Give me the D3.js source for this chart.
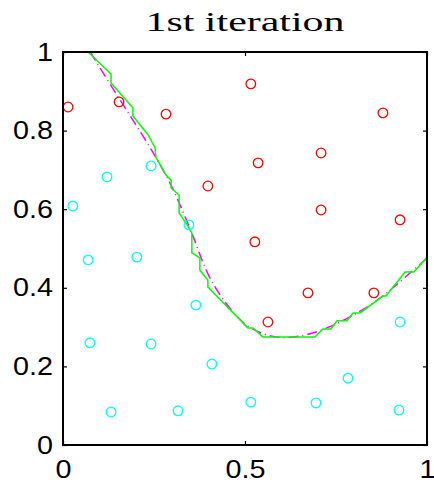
<!DOCTYPE html>
<html>
<head>
<meta charset="utf-8">
<script src="https://cdn.jsdelivr.net/npm/d3@7"></script>
<style>
  body { margin: 0; background: #fff; }
</style>
</head>
<body>
<div id="chart-area"></div>
<script>
// class +1 samples (red)
var redX = [0.014, 0.154, 0.283, 0.516, 0.879, 0.398, 0.536, 0.709, 0.709, 0.926, 0.527, 0.673, 0.854, 0.563];
var redY = [0.860, 0.873, 0.842, 0.919, 0.845, 0.659, 0.718, 0.743, 0.598, 0.573, 0.517, 0.387, 0.387, 0.313];

// class -1 samples (cyan)
var cyanX = [0.027, 0.121, 0.242, 0.346, 0.069, 0.203, 0.365, 0.074, 0.242, 0.409, 0.783, 0.926, 0.132, 0.316, 0.516, 0.695, 0.923];
var cyanY = [0.608, 0.682, 0.710, 0.560, 0.471, 0.478, 0.356, 0.260, 0.257, 0.206, 0.170, 0.313, 0.084, 0.087, 0.109, 0.107, 0.089];

// learned boundary (green, stepped)
var boundX = [0.069, 0.132, 0.132, 0.192, 0.192, 0.234, 0.253, 0.255, 0.283, 0.297, 0.297, 0.319, 0.319, 0.338, 0.354, 0.354, 0.376, 0.376, 0.398, 0.398, 0.508, 0.522, 0.549, 0.692, 0.714, 0.736, 0.753, 0.780, 0.797, 0.816, 0.879, 0.887, 0.940, 0.964, 1.000];
var boundY = [1.000, 0.944, 0.921, 0.858, 0.837, 0.789, 0.756, 0.733, 0.687, 0.674, 0.654, 0.636, 0.590, 0.565, 0.539, 0.489, 0.476, 0.445, 0.420, 0.402, 0.298, 0.298, 0.275, 0.275, 0.295, 0.295, 0.316, 0.316, 0.336, 0.336, 0.379, 0.379, 0.440, 0.440, 0.478];

// true boundary (magenta, dashed)
var trueX = [0.075, 0.10, 0.15, 0.20, 0.25, 0.30, 0.35, 0.40, 0.45, 0.50, 0.55, 0.60, 0.65, 0.70, 0.75, 0.80, 0.85, 0.90, 0.95, 1.00];
var trueY = [1.000, 0.962, 0.888, 0.815, 0.740, 0.655, 0.548, 0.432, 0.358, 0.308, 0.283, 0.274, 0.277, 0.289, 0.308, 0.332, 0.360, 0.395, 0.435, 0.475];

var xTicks = [0, 0.5, 1];
var yTicks = [0, 0.2, 0.4, 0.6, 0.8, 1];

var margin = {left: 63, right: 7, top: 52, bottom: 38};
var width = 364;
var height = 393;

var svg = d3.select("#chart-area")
            .append("svg")
            .attr("width", width + margin.left + margin.right)
            .attr("height", height + margin.top + margin.bottom);

var g = svg.append("g")
           .attr("transform", "translate(" + margin.left + "," + margin.top + ")");

var x = d3.scaleLinear().domain([0, 1]).range([0, width]);
var y = d3.scaleLinear().domain([0, 1]).range([height, 0]);

svg.append("text")
   .attr("x", margin.left + width / 2)
   .attr("y", 31)
   .attr("text-anchor", "middle")
   .attr("font-family", "Liberation Serif")
   .attr("font-size", "27px")
   .attr("textLength", 199)
   .attr("lengthAdjust", "spacingAndGlyphs")
   .text("1st iteration");

var redPts = redX.map((d, i) => { return {x: d, y: redY[i]}; });
var cyanPts = cyanX.map((d, i) => { return {x: d, y: cyanY[i]}; });
var boundPts = boundX.map((d, i) => [d, boundY[i]]);
var truePts = trueX.map((d, i) => [d, trueY[i]]);

var line = d3.line()
             .x((d) => { return x(d[0]); })
             .y((d) => { return y(d[1]); });

g.append("path")
 .datum(truePts)
 .attr("fill", "none")
 .attr("stroke", "#ff00ff")
 .attr("stroke-width", 1.5)
 .attr("stroke-dasharray", "10,4,1,4")
 .attr("d", line.curve(d3.curveCatmullRom));

g.append("path")
 .datum(boundPts)
 .attr("fill", "none")
 .attr("stroke", "#00ff00")
 .attr("stroke-width", 1.5)
 .attr("d", line.curve(d3.curveLinear));

g.selectAll("circle.red")
 .data(redPts)
 .enter().append("circle")
 .attr("class", "red")
 .attr("cx", (d) => { return x(d.x); })
 .attr("cy", (d) => { return y(d.y); })
 .attr("r", 4.8)
 .attr("fill", "none")
 .attr("stroke", "#ff0000")
 .attr("stroke-width", 1.3);

g.selectAll("circle.cyan")
 .data(cyanPts)
 .enter().append("circle")
 .attr("class", "cyan")
 .attr("cx", (d) => { return x(d.x); })
 .attr("cy", (d) => { return y(d.y); })
 .attr("r", 4.8)
 .attr("fill", "none")
 .attr("stroke", "#00ffff")
 .attr("stroke-width", 1.3);

var fmt = (d) => { return String(d); };

var bottomAxis = d3.axisBottom(x).tickValues(xTicks).tickFormat(fmt).tickSize(-4).tickPadding(15);
var leftAxis = d3.axisLeft(y).tickValues(yTicks).tickFormat(fmt).tickSize(-4).tickPadding(10);
var topAxis = d3.axisTop(x).tickValues(xTicks).tickFormat("").tickSize(-4);
var rightAxis = d3.axisRight(y).tickValues(yTicks).tickFormat("").tickSize(-4);

var axes = [
  g.append("g").attr("transform", "translate(0," + height + ")").call(bottomAxis),
  g.append("g").call(leftAxis),
  g.append("g").call(topAxis),
  g.append("g").attr("transform", "translate(" + width + ",0)").call(rightAxis)
];

axes.forEach((a) => {
  a.select(".domain").remove();
  a.selectAll("line").attr("stroke", "#000").attr("stroke-width", 1.2);
  a.selectAll("text")
   .attr("font-family", "Liberation Sans")
   .attr("font-size", "25px")
   .attr("fill", "#000");
});

// stretch tick labels a little, like the original
g.selectAll(".tick text").each(function() {
  var w = this.getComputedTextLength();
  if (w > 0) {
    d3.select(this).attr("textLength", w * 1.15).attr("lengthAdjust", "spacingAndGlyphs");
  }
});

g.append("rect")
 .attr("width", width)
 .attr("height", height)
 .attr("fill", "none")
 .attr("stroke", "#000")
 .attr("stroke-width", 2);
</script>
</body>
</html>
